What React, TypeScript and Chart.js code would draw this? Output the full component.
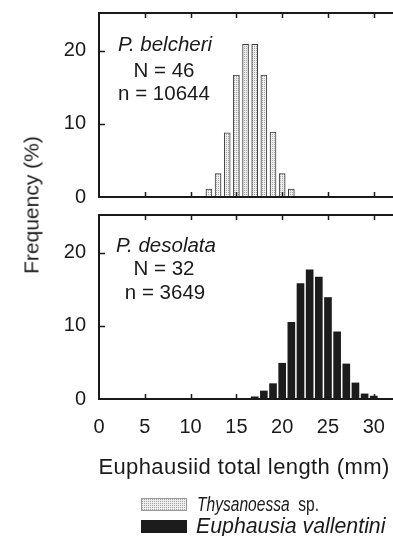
import React, { useEffect, useMemo, useRef } from "react";
import { Chart, registerables } from "chart.js";

Chart.register(...registerables);

// ---- data ----
const lengthsBelcheri = [12, 13, 14, 15, 16, 17, 18, 19, 20, 21];
const freqBelcheri = [1.1, 3.2, 8.8, 16.7, 20.9, 20.9, 16.7, 8.9, 3.2, 1.1];
const lengthsDesolata = [17, 18, 19, 20, 21, 22, 23, 24, 25, 26, 27, 28, 29, 30];
const freqDesolata = [0.3, 1.1, 2.1, 4.9, 10.5, 15.8, 17.7, 16.7, 13.9, 9.2, 4.8, 2.2, 0.7, 0.4];
const xTickValues = [0, 5, 10, 15, 20, 25, 30];
const yTickValues = [0, 10, 20];
const xAxisTitle = "Euphausiid total length (mm)";
const yAxisTitle = "Frequency (%)";
const legendLabels = ["Thysanoessa", "Euphausia vallentini"];
const panelTop = { species: "P. belcheri", N: "N = 46", n: "n = 10644" };
const panelBottom = { species: "P. desolata", N: "N = 32", n: "n = 3649" };

const FONT = '"Liberation Sans", Arial, Helvetica, sans-serif';
const INK = "#1a1a1a";

function makeStipple(): HTMLCanvasElement {
  const c = document.createElement("canvas");
  c.width = 2;
  c.height = 2;
  const g = c.getContext("2d")!;
  g.fillStyle = "#ededed";
  g.fillRect(0, 0, 2, 2);
  g.fillStyle = "#a8a8a8";
  g.fillRect(0, 0, 1, 1);
  return c;
}

const framePlugin = {
  id: "frame",
  afterDraw(chart: any) {
    const { ctx, chartArea, scales } = chart;
    const { left, right, top, bottom } = chartArea;
    const x = scales.x;
    const y = scales.y;
    ctx.save();
    ctx.strokeStyle = INK;
    ctx.lineWidth = 2;
    ctx.beginPath();
    ctx.moveTo(right + 5, top);
    ctx.lineTo(left, top);
    ctx.lineTo(left, bottom);
    ctx.lineTo(right + 5, bottom);
    ctx.stroke();
    ctx.lineWidth = 1.5;
    ctx.beginPath();
    x.ticks.forEach((t: any) => {
      const px = Math.round(x.getPixelForValue(t.value)) + 0.5;
      if (px <= left + 2) return;
      ctx.moveTo(px, top);
      ctx.lineTo(px, top + 5);
      ctx.moveTo(px, bottom);
      ctx.lineTo(px, bottom - 5);
    });
    y.ticks.forEach((t: any) => {
      const py = Math.round(y.getPixelForValue(t.value)) + 0.5;
      if (py >= bottom - 2) return;
      ctx.moveTo(left, py);
      ctx.lineTo(left + 6, py);
    });
    ctx.stroke();
    ctx.restore();
  },
};

function zeroPad(s: any) {
  s.paddingTop = 0;
  s.paddingBottom = 0;
  s.paddingLeft = 0;
  s.paddingRight = 0;
}

function makeConfig(
  lengths: number[],
  freqs: number[],
  bg: any,
  border: string,
  borderWidth: number,
  thickness: number,
  showX: boolean,
  padTop: number,
  padBottom: number,
  xHeight: number
): any {
  return {
    type: "bar",
    data: {
      datasets: [
        {
          data: lengths.map((v, i) => ({ x: v, y: freqs[i] })),
          backgroundColor: bg,
          borderColor: border,
          borderWidth,
          barThickness: thickness,
        },
      ],
    },
    options: {
      animation: false,
      responsive: false,
      devicePixelRatio: 1,
      layout: { padding: { top: padTop, bottom: padBottom, left: 0, right: 0 } },
      plugins: { legend: { display: false }, tooltip: { enabled: false } },
      scales: {
        x: {
          type: "linear",
          offset: false,
          min: 0,
          max: 32.1,
          grid: { display: false, drawTicks: false },
          border: { display: false },
          ticks: {
            display: showX,
            includeBounds: false,
            padding: 16,
            color: INK,
            font: { family: FONT, size: 20 },
            maxRotation: 0,
            autoSkip: false,
          },
          afterBuildTicks: (s: any) => {
            s.ticks = xTickValues.map((v) => ({ value: v }));
          },
          afterFit: (s: any) => {
            s.height = xHeight;
            zeroPad(s);
          },
        },
        y: {
          min: 0,
          max: 25.2,
          grid: { display: false, drawTicks: false },
          border: { display: false },
          ticks: {
            padding: 13,
            color: INK,
            font: { family: FONT, size: 20 },
          },
          afterBuildTicks: (s: any) => {
            s.ticks = yTickValues.map((v) => ({ value: v }));
          },
          afterFit: (s: any) => {
            s.width = 99;
            zeroPad(s);
          },
        },
      },
    },
    plugins: [framePlugin],
  };
}

const textBase: React.CSSProperties = {
  position: "absolute",
  fontFamily: FONT,
  color: INK,
  whiteSpace: "nowrap",
  lineHeight: 1,
  transform: "translate(-50%, -50%)",
};

function Annot({ x, y, text, italic }: { x: number; y: number; text: string; italic?: boolean }) {
  return (
    <div style={{ ...textBase, left: x, top: y, fontSize: 20.5, fontStyle: italic ? "italic" : "normal" }}>
      {text}
    </div>
  );
}

export default function App() {
  const topRef = useRef<HTMLCanvasElement>(null);
  const botRef = useRef<HTMLCanvasElement>(null);
  const stippleUrl = useMemo(() => makeStipple().toDataURL(), []);

  useEffect(() => {
    const stipple = makeStipple();
    const topCtx = topRef.current!.getContext("2d")!;
    const pattern = topCtx.createPattern(stipple, "repeat");
    const c1 = new Chart(
      topRef.current!,
      makeConfig(lengthsBelcheri, freqBelcheri, pattern, "#3a3a3a", 1, 6, false, 13, 8, 0)
    );
    const c2 = new Chart(
      botRef.current!,
      makeConfig(lengthsDesolata, freqDesolata, "#1c1c1c", "#1c1c1c", 0, 7, true, 10, 0, 137)
    );
    return () => {
      c1.destroy();
      c2.destroy();
    };
  }, []);

  return (
    <div
      style={{
        position: "absolute",
        left: 0,
        top: 0,
        width: 393,
        height: 536,
        overflow: "hidden",
        background: "#fff",
      }}
    >
      <canvas ref={topRef} width={393} height={205} style={{ position: "absolute", left: 0, top: 0 }} />
      <canvas ref={botRef} width={393} height={331} style={{ position: "absolute", left: 0, top: 205 }} />

      <Annot x={165} y={44} text={panelTop.species} italic />
      <Annot x={164} y={70} text={panelTop.N} />
      <Annot x={164} y={93} text={panelTop.n} />

      <Annot x={166} y={245} text={panelBottom.species} italic />
      <Annot x={164} y={268} text={panelBottom.N} />
      <Annot x={165} y={292} text={panelBottom.n} />

      <div
        style={{
          ...textBase,
          left: 31,
          top: 205,
          fontSize: 21,
          transform: "translate(-50%, -50%) rotate(-90deg)",
        }}
      >
        {yAxisTitle}
      </div>

      <div style={{ ...textBase, left: 244, top: 467, fontSize: 22, letterSpacing: 0.4 }}>{xAxisTitle}</div>

      <div
        style={{
          position: "absolute",
          left: 141,
          top: 498,
          width: 46,
          height: 13,
          backgroundImage: `url(${stippleUrl})`,
          backgroundRepeat: "repeat",
          boxSizing: "border-box",
          border: "1px solid #999",
        }}
      />
      <div
        style={{
          position: "absolute",
          left: 197,
          top: 494,
          fontFamily: FONT,
          fontSize: 20.5,
          lineHeight: "20px",
          color: INK,
          whiteSpace: "nowrap",
          transform: "scaleX(0.76)",
          transformOrigin: "left center",
        }}
      >
        <i>{legendLabels[0]}</i>&nbsp; sp.
      </div>
      <div
        style={{
          position: "absolute",
          left: 141,
          top: 520,
          width: 46,
          height: 13,
          background: "#1c1c1c",
        }}
      />
      <div
        style={{
          position: "absolute",
          left: 196,
          top: 516,
          fontFamily: FONT,
          fontSize: 21.3,
          lineHeight: "20px",
          color: INK,
          whiteSpace: "nowrap",
          fontStyle: "italic",
        }}
      >
        {legendLabels[1]}
      </div>
    </div>
  );
}
